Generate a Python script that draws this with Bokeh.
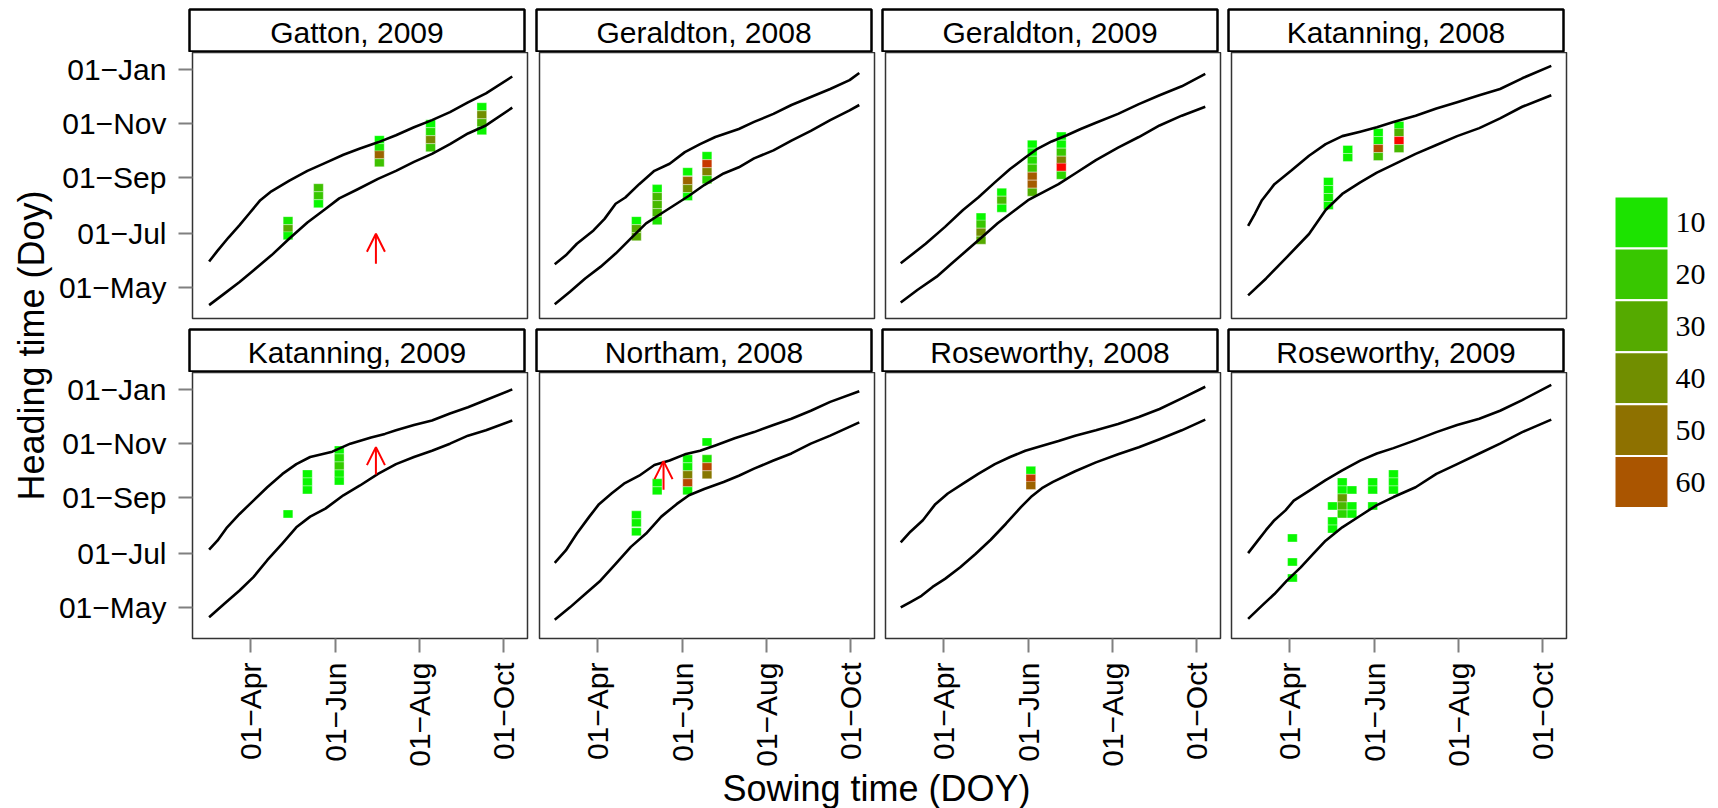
import numpy as np
from bokeh.plotting import figure
from bokeh.models import (Range1d, FixedTicker, ColumnDataSource, LinearColorMapper,
                          Arrow, OpenHead, Label)
from bokeh.transform import transform
from bokeh.layouts import row, column
from bokeh.embed import file_html
from bokeh.resources import INLINE

FONT = "Liberation Sans"

# ---------------- data ----------------
PANEL_NAMES = ["Gatton, 2009", "Geraldton, 2008", "Geraldton, 2009", "Katanning, 2008",
               "Katanning, 2009", "Northam, 2008", "Roseworthy, 2008", "Roseworthy, 2009"]

X_TICKS = [91, 152, 213, 274]
X_TICK_LABELS = ["01\u2212Apr", "01\u2212Jun", "01\u2212Aug", "01\u2212Oct"]
Y_TICKS = [121, 182, 244, 305, 366]
Y_TICK_LABELS = ["01\u2212May", "01\u2212Jul", "01\u2212Sep", "01\u2212Nov", "01\u2212Jan"]
LEGEND_LEVELS = [10, 20, 30, 40, 50, 60]

# envelope lines (sowing DOY -> heading DOY)
GAT09_UP_X = [61, 67, 75, 83, 90, 98, 106, 119, 132, 145, 158, 170, 183, 196, 209, 222, 235, 248, 261, 280]
GAT09_UP_Y = [150, 162, 177, 191, 204, 219, 229, 241, 252, 261, 270, 277, 284, 292, 301, 309, 318, 329, 339, 358]
GAT09_LO_X = [61, 72, 83, 93, 106, 119, 132, 145, 155, 168, 183, 196, 209, 222, 235, 248, 261, 280]
GAT09_LO_Y = [101, 114, 127, 140, 157, 176, 194, 209, 221, 231, 243, 252, 262, 271, 282, 294, 303, 323]

GER08_UP_X = [60, 68, 76, 88, 96, 104, 111, 121, 132, 143, 154, 165, 176, 193, 204, 218, 231, 245, 259, 273, 280]
GER08_UP_Y = [147, 157, 170, 185, 198, 215, 222, 237, 252, 260, 273, 282, 290, 299, 307, 316, 326, 335, 344, 354, 362]
GER08_LO_X = [60, 71, 82, 93, 104, 115, 126, 137, 148, 157, 168, 182, 193, 204, 218, 231, 245, 259, 273, 280]
GER08_LO_Y = [102, 116, 131, 144, 159, 176, 193, 204, 215, 224, 236, 249, 256, 266, 275, 286, 297, 309, 320, 326]

GER09_UP_X = [60, 78, 92, 105, 116, 128, 139, 150, 158, 169, 180, 190, 201, 217, 232, 247, 263, 280]
GER09_UP_Y = [148, 170, 189, 208, 222, 239, 254, 267, 276, 285, 292, 299, 306, 316, 327, 337, 347, 361]
GER09_LO_X = [60, 72, 86, 97, 108, 119, 130, 141, 152, 163, 174, 186, 201, 217, 232, 247, 263, 280]
GER09_LO_Y = [104, 118, 133, 148, 163, 178, 193, 206, 219, 228, 237, 249, 264, 278, 290, 303, 314, 324]

KAT08_UP_X = [61, 66, 71, 80, 92, 105, 117, 129, 142, 154, 166, 182, 197, 212, 228, 243, 259, 280]
KAT08_UP_Y = [190, 204, 219, 237, 252, 269, 282, 291, 296, 301, 307, 314, 322, 329, 337, 344, 356, 370]
KAT08_LO_X = [61, 74, 89, 105, 117, 129, 142, 154, 166, 182, 197, 212, 228, 243, 259, 280]
KAT08_LO_Y = [112, 131, 155, 181, 208, 226, 239, 250, 259, 271, 281, 291, 300, 311, 324, 337]

KAT09_UP_X = [61, 67, 74, 83, 93, 103, 114, 124, 134, 150, 163, 178, 188, 196, 209, 222, 235, 248, 261, 280]
KAT09_UP_Y = [186, 196, 211, 226, 241, 256, 271, 282, 290, 296, 305, 312, 316, 320, 326, 331, 339, 346, 354, 366]
KAT09_LO_X = [61, 72, 83, 93, 103, 114, 124, 134, 145, 158, 170, 183, 196, 209, 222, 235, 248, 261, 280]
KAT09_LO_Y = [110, 125, 140, 155, 174, 193, 211, 223, 232, 247, 258, 271, 282, 290, 297, 305, 314, 320, 331]

NOR08_UP_X = [60, 68, 76, 85, 92, 101, 110, 121, 132, 143, 154, 165, 176, 190, 204, 218, 231, 245, 259, 280]
NOR08_UP_Y = [171, 185, 204, 223, 237, 249, 260, 269, 281, 286, 293, 297, 303, 311, 318, 326, 333, 342, 352, 364]
NOR08_LO_X = [60, 71, 82, 93, 104, 115, 126, 137, 148, 157, 168, 182, 193, 204, 218, 231, 245, 259, 280]
NOR08_LO_Y = [107, 121, 136, 151, 170, 189, 204, 223, 237, 247, 254, 262, 269, 277, 286, 294, 305, 314, 329]

ROS08_UP_X = [60, 67, 76, 85, 94, 105, 116, 128, 139, 150, 161, 174, 186, 201, 217, 232, 247, 263, 280]
ROS08_UP_Y = [194, 206, 219, 237, 249, 260, 271, 282, 290, 297, 302, 308, 314, 320, 327, 335, 344, 356, 369]
ROS08_LO_X = [60, 67, 75, 83, 92, 103, 114, 125, 136, 147, 154, 162, 170, 186, 201, 217, 232, 247, 263, 280]
ROS08_LO_Y = [121, 127, 134, 144, 153, 166, 181, 197, 215, 234, 245, 255, 262, 274, 284, 293, 301, 310, 320, 332]

ROS09_UP_X = [61, 68, 74, 80, 88, 94, 105, 117, 129, 142, 154, 166, 182, 197, 212, 228, 243, 259, 280]
ROS09_UP_Y = [182, 196, 208, 219, 230, 241, 252, 264, 275, 286, 294, 300, 309, 318, 326, 333, 342, 354, 371]
ROS09_LO_X = [61, 71, 80, 89, 99, 108, 117, 129, 142, 154, 166, 182, 197, 212, 228, 243, 259, 280]
ROS09_LO_Y = [108, 123, 136, 151, 166, 181, 196, 211, 224, 236, 245, 256, 271, 282, 294, 305, 318, 332]

# observed tiles: sowing DOY, heading DOY, value
GAT09_TILE_X = [118, 118, 118, 140, 140, 140, 184, 184, 184, 184, 221, 221, 221, 221, 258, 258, 258, 258]
GAT09_TILE_Y = [196, 187, 179, 233, 224, 215, 287, 278, 270, 261, 305, 296, 287, 278, 324, 315, 306, 297]
GAT09_TILE_V = [8, 30, 3, 22, 20, 3, 2, 8, 55, 22, 2, 12, 42, 20, 3, 40, 25, 4]

GER08_TILE_X = [119, 119, 119, 134, 134, 134, 134, 134, 156, 156, 156, 156, 170, 170, 170, 170]
GER08_TILE_Y = [196, 187, 178, 232, 223, 214, 205, 196, 251, 241, 232, 223, 269, 260, 251, 242]
GER08_TILE_V = [3, 30, 30, 3, 25, 25, 25, 10, 3, 55, 40, 3, 3, 70, 45, 15]

GER09_TILE_X = [118, 118, 118, 118, 133, 133, 133, 155, 155, 155, 155, 155, 155, 155,
                176, 176, 176, 176, 176, 176]
GER09_TILE_Y = [200, 192, 183, 174, 228, 219, 210, 282, 273, 264, 255, 246, 237, 228,
                291, 282, 273, 264, 256, 247]
GER09_TILE_V = [3, 20, 40, 30, 3, 25, 3, 2, 3, 12, 20, 58, 58, 28, 2, 3, 20, 45, 88, 15]

KAT08_TILE_X = [119, 119, 119, 119, 133, 133, 155, 155, 155, 155, 170, 170, 170, 170]
KAT08_TILE_Y = [240, 231, 222, 213, 276, 267, 295, 286, 277, 268, 303, 295, 286, 277]
KAT08_TILE_V = [3, 3, 6, 3, 3, 5, 2, 5, 62, 22, 3, 28, 88, 25]

KAT09_TILE_X = [118, 132, 132, 132, 155, 155, 155, 155, 155]
KAT09_TILE_Y = [226, 271, 262, 253, 298, 289, 280, 271, 263]
KAT09_TILE_V = [3, 3, 3, 3, 3, 12, 18, 5, 3]

NOR08_TILE_X = [119, 119, 119, 134, 134, 156, 156, 156, 156, 156, 170, 170, 170, 170]
NOR08_TILE_Y = [225, 216, 206, 261, 252, 288, 279, 270, 261, 252, 307, 288, 279, 270]
NOR08_TILE_V = [3, 5, 3, 3, 3, 3, 5, 45, 65, 3, 3, 10, 65, 48]

ROS08_TILE_X = [154, 154, 154]
ROS08_TILE_Y = [275, 266, 258]
ROS08_TILE_V = [3, 68, 55]

ROS09_TILE_X = [93, 93, 93, 122, 122, 122, 129, 129, 129, 129, 129, 136, 136, 136,
                151, 151, 151, 166, 166, 166]
ROS09_TILE_Y = [199, 172, 154, 235, 218, 209, 262, 253, 244, 235, 226, 253, 235, 226,
                262, 253, 235, 271, 262, 253]
ROS09_TILE_V = [3, 3, 3, 3, 3, 3, 3, 3, 35, 25, 15, 3, 3, 3, 3, 3, 3, 3, 3, 3]

# red arrows: panel index, sowing DOY, start / end heading DOY
ARROW_PANEL = [0, 4, 5]
ARROW_X = [181.5, 181.5, 138.6]
ARROW_Y0 = [147.5, 270.4, 253.2]
ARROW_Y1 = [181.2, 301.1, 285.4]

PANELS = [
    (GAT09_UP_X, GAT09_UP_Y, GAT09_LO_X, GAT09_LO_Y, GAT09_TILE_X, GAT09_TILE_Y, GAT09_TILE_V),
    (GER08_UP_X, GER08_UP_Y, GER08_LO_X, GER08_LO_Y, GER08_TILE_X, GER08_TILE_Y, GER08_TILE_V),
    (GER09_UP_X, GER09_UP_Y, GER09_LO_X, GER09_LO_Y, GER09_TILE_X, GER09_TILE_Y, GER09_TILE_V),
    (KAT08_UP_X, KAT08_UP_Y, KAT08_LO_X, KAT08_LO_Y, KAT08_TILE_X, KAT08_TILE_Y, KAT08_TILE_V),
    (KAT09_UP_X, KAT09_UP_Y, KAT09_LO_X, KAT09_LO_Y, KAT09_TILE_X, KAT09_TILE_Y, KAT09_TILE_V),
    (NOR08_UP_X, NOR08_UP_Y, NOR08_LO_X, NOR08_LO_Y, NOR08_TILE_X, NOR08_TILE_Y, NOR08_TILE_V),
    (ROS08_UP_X, ROS08_UP_Y, ROS08_LO_X, ROS08_LO_Y, ROS08_TILE_X, ROS08_TILE_Y, ROS08_TILE_V),
    (ROS09_UP_X, ROS09_UP_Y, ROS09_LO_X, ROS09_LO_Y, ROS09_TILE_X, ROS09_TILE_Y, ROS09_TILE_V),
]

# ---------------- styling / layout ----------------
PALETTE = ["#%02x%02x00" % (i, 255 - i) for i in range(256)]
mapper = LinearColorMapper(palette=PALETTE, low=0, high=90)

FRAME_W, FRAME_H, STRIP_H = 335, 266, 43
BORDER_L = [134, 6, 6, 6]
BORDER_R = [6, 5, 5, 2]
TICK_COLOR = "#808080"
TOTAL_H = 808
YT_W = 55


def style_axis(ax, ticks, labels, standoff):
    ax.ticker = FixedTicker(ticks=ticks)
    ax.major_label_overrides = {t: l for t, l in zip(ticks, labels)}
    ax.axis_line_color = None
    ax.major_tick_line_color = TICK_COLOR
    ax.major_tick_line_width = 2
    ax.major_tick_out = 14
    ax.major_tick_in = 0
    ax.minor_tick_line_color = None
    ax.major_label_text_font = FONT
    ax.major_label_text_font_size = "30px"
    ax.major_label_text_color = "black"
    ax.major_label_standoff = standoff


strip_rows = [[], []]
panel_rows = [[], []]
for i, (ux, uy, lx, ly, tx, ty, tv) in enumerate(PANELS):
    r, c = divmod(i, 4)

    s = figure(frame_width=FRAME_W, frame_height=STRIP_H,
               x_range=Range1d(0, 1), y_range=Range1d(0, 1),
               min_border_left=BORDER_L[c], min_border_right=BORDER_R[c],
               min_border_top=9 if r == 0 else 2, min_border_bottom=0,
               x_axis_location=None, y_axis_location=None,
               toolbar_location=None, output_backend="svg")
    s.grid.visible = False
    s.outline_line_color = "black"
    s.outline_line_width = 2.5
    s.add_layout(Label(x=0.5, y=0.46, text=PANEL_NAMES[i], text_align="center",
                       text_baseline="middle", text_font=FONT,
                       text_font_size="30px", text_color="black"))
    strip_rows[r].append(s)

    p = figure(frame_width=FRAME_W, frame_height=FRAME_H,
               x_range=Range1d(49, 291), y_range=Range1d(86, 385),
               min_border_left=BORDER_L[c], min_border_right=BORDER_R[c],
               min_border_top=0, min_border_bottom=130 if r == 1 else 9,
               x_axis_location="below" if r == 1 else None,
               y_axis_location="left" if c == 0 else None,
               toolbar_location=None, output_backend="svg")
    p.grid.visible = False
    p.outline_line_color = "#333333"
    p.outline_line_width = 1.5
    p.background_fill_color = "white"
    p.border_fill_color = "white"
    if r == 1:
        style_axis(p.xaxis[0], X_TICKS, X_TICK_LABELS, 10)
        p.xaxis[0].major_label_orientation = np.pi / 2
    if c == 0:
        style_axis(p.yaxis[0], Y_TICKS, Y_TICK_LABELS, 12)

    src = ColumnDataSource(dict(x=tx, y=ty, v=tv))
    p.rect(x="x", y="y", width=7, height=9, source=src,
           fill_color=transform("v", mapper), line_color="white",
           line_alpha=0.35, line_width=1)
    p.line(ux, uy, line_color="black", line_width=2.6, line_join="round")
    p.line(lx, ly, line_color="black", line_width=2.6, line_join="round")

    for k, pi in enumerate(ARROW_PANEL):
        if pi == i:
            p.add_layout(Arrow(end=OpenHead(size=18, line_color="red", line_width=2),
                               x_start=ARROW_X[k], y_start=ARROW_Y0[k],
                               x_end=ARROW_X[k], y_end=ARROW_Y1[k],
                               line_color="red", line_width=2))
    panel_rows[r].append(p)

GRID_W = sum(BORDER_L) + sum(BORDER_R) + 4 * FRAME_W

# y-axis title
yt = figure(width=YT_W, height=TOTAL_H, x_range=Range1d(0, YT_W), y_range=Range1d(0, TOTAL_H),
            min_border=0, x_axis_location=None, y_axis_location=None,
            toolbar_location=None, output_backend="svg")
yt.grid.visible = False
yt.outline_line_color = None
yt.add_layout(Label(x=31, y=TOTAL_H - 345, text="Heading time (Doy)", angle=np.pi / 2,
                    text_align="center", text_baseline="middle", text_font=FONT,
                    text_font_size="36px", text_color="black"))

# x-axis title
XT_H = 40
xt = figure(width=GRID_W, height=XT_H, x_range=Range1d(0, GRID_W), y_range=Range1d(0, XT_H),
            min_border=0, x_axis_location=None, y_axis_location=None,
            toolbar_location=None, output_backend="svg")
xt.grid.visible = False
xt.outline_line_color = None
xt.add_layout(Label(x=876 - YT_W, y=21, text="Sowing time (DOY)", text_align="center",
                    text_baseline="middle", text_font=FONT, text_font_size="36px",
                    text_color="black"))

# legend (value scale)
LEG_W = 150
leg_px = 5.19
leg_top_val = 10 - 222 / leg_px
leg_bot_val = 10 + (TOTAL_H - 222) / leg_px
leg = figure(width=LEG_W, height=TOTAL_H, x_range=Range1d(-73, LEG_W - 73),
             y_range=Range1d(leg_bot_val, leg_top_val),
             min_border=0, x_axis_location=None, y_axis_location=None,
             toolbar_location=None, output_backend="svg")
leg.grid.visible = False
leg.outline_line_color = None
lsrc = ColumnDataSource(dict(x=[0] * len(LEGEND_LEVELS), y=LEGEND_LEVELS, v=LEGEND_LEVELS,
                             t=[str(v) for v in LEGEND_LEVELS],
                             tx=[34] * len(LEGEND_LEVELS)))
leg.rect(x="x", y="y", width=54, height=10, source=lsrc,
         fill_color=transform("v", mapper), line_color="white", line_width=2)
leg.text(x="tx", y="y", text="t", source=lsrc, text_align="left", text_baseline="middle",
         text_font=FONT, text_font_size="30px", text_color="black")

grid = column(row(*strip_rows[0]), row(*panel_rows[0]),
              row(*strip_rows[1]), row(*panel_rows[1]), xt)
layout = row(yt, grid, leg)

open("out.html", "w").write(file_html(layout, INLINE))
